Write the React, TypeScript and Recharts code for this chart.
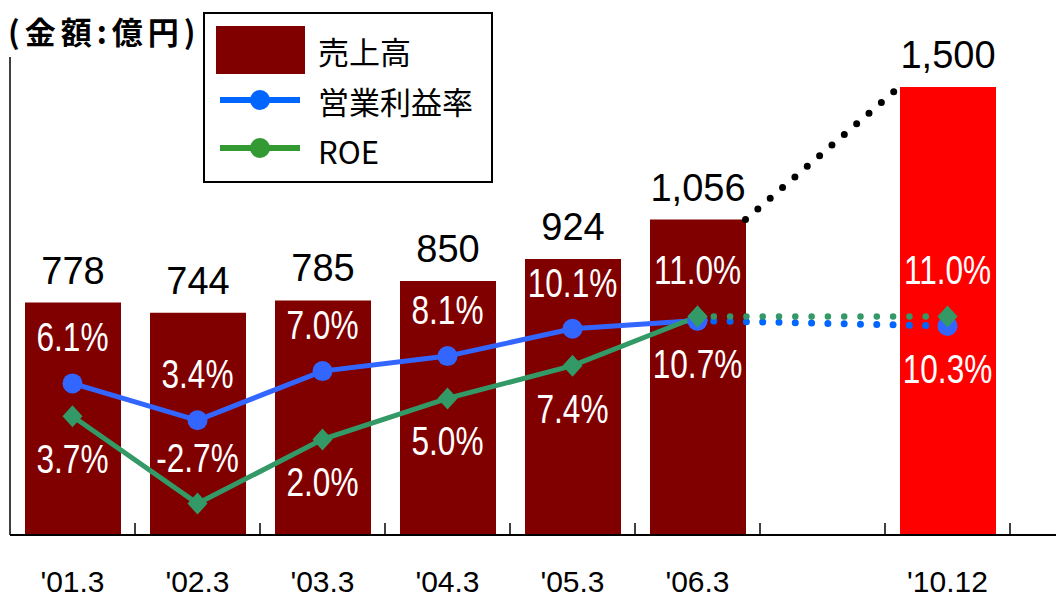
import React from "react";
import { ComposedChart, Bar, Line, XAxis, YAxis, Legend, LabelList, Cell } from "recharts";

// 決算期（最後の空欄は軸の余白）
const periods = ["'01.3", "'02.3", "'03.3", "'04.3", "'05.3", "'06.3", "", "'10.12", ""];
// 売上高（億円）
const sales = [778, 744, 785, 850, 924, 1056, null, 1500, null];
// 営業利益率（%）実績 / 計画
const opMargin = [6.1, 3.4, 7.0, 8.1, 10.1, 10.7, null, null, null];
const opMarginPlan = [null, null, null, null, null, 10.7, null, 10.3, null];
// ROE（%）実績 / 計画
const roe = [3.7, -2.7, 2.0, 5.0, 7.4, 11.0, null, null, null];
const roePlan = [null, null, null, null, null, 11.0, null, 11.0, null];
// ラベルを点の上に置くか下に置くか
const opMarginSide = ["top", "top", "top", "top", "top", "bottom", null, "bottom", null];
const roeSide = ["bottom", "top", "bottom", "bottom", "bottom", "top", null, "top", null];

const PLAN_INDEX = 7;
const LAST_ACTUAL = 5;

const PLOT_LEFT = 10;
const PLOT_W = 1125;
const BAR_SIZE = 96;
const BAND = PLOT_W / periods.length;

const data = periods.map((period, i) => ({
  period,
  sales: sales[i],
  opMargin: opMargin[i],
  opMarginPlan: opMarginPlan[i],
  roe: roe[i],
  roePlan: roePlan[i],
}));

// 実績最終バーの右肩から計画バーの左肩へ
const trendData = [
  { x: LAST_ACTUAL + 0.5 + BAR_SIZE / BAND / 2, v: sales[LAST_ACTUAL] },
  { x: PLAN_INDEX + 0.5 - BAR_SIZE / BAND / 2, v: sales[PLAN_INDEX] },
];
const bandEdges = periods.slice(1).map((_, i) => i + 1);

const MAROON = "#800000";
const RED = "#ff0000";
const BLUE = "#3366ff";
const BLUE_DOT = "#0066ff";
const GREEN = "#339966";
const LATIN = '"Liberation Sans", Arial, sans-serif';
const CJK = '"Noto Sans CJK JP", "Noto Sans", sans-serif';

const pos = (p: any) => {
  const vb = p.viewBox || {};
  return {
    x: p.x ?? vb.x,
    y: p.y ?? vb.y,
    width: p.width ?? vb.width ?? 0,
  };
};

const emptyTick = (p: any) => <g key={`t-${p.index}`} />;

const circleDot = (color: string) => (p: any) => {
  if (p.cx == null || p.cy == null || p.value == null) return <g key={`c-${p.index}`} />;
  return <circle key={`c-${p.index}`} cx={p.cx} cy={p.cy} r={10} fill={color} />;
};

const diamondDot = (color: string) => (p: any) => {
  if (p.cx == null || p.cy == null || p.value == null) return <g key={`d-${p.index}`} />;
  const { cx, cy } = p;
  return (
    <polygon
      key={`d-${p.index}`}
      points={`${cx},${cy - 11} ${cx + 10},${cy} ${cx},${cy + 11} ${cx - 10},${cy}`}
      fill={color}
    />
  );
};

const pctLabel = (sides: (string | null)[], only?: number) => (p: any) => {
  const { x, y } = pos(p);
  const i = p.index;
  if (p.value == null || x == null || y == null || !sides[i]) return null;
  if (only !== undefined && i !== only) return null;
  if (only === undefined && i === PLAN_INDEX) return null;
  const dy = sides[i] === "top" ? -32 : 57;
  return (
    <text
      key={`pl-${i}`}
      transform={`translate(${x},${y + dy}) scale(0.77,1)`}
      textAnchor="middle"
      fill="#fff"
      fontSize={41}
      fontFamily={LATIN}
    >
      {Number(p.value).toFixed(1)}%
    </text>
  );
};

const salesLabel = (p: any) => {
  const { x, y, width } = pos(p);
  if (p.value == null || x == null) return null;
  return (
    <text
      key={`sl-${p.index}`}
      x={x + width / 2}
      y={y - 19}
      textAnchor="middle"
      fill="#000"
      fontSize={38}
      fontFamily={LATIN}
    >
      {Number(p.value).toLocaleString("en-US")}
    </text>
  );
};

const renderLegend = () => (
  <div
    style={{
      width: 290,
      height: 171,
      boxSizing: "border-box",
      border: "2px solid #000",
      background: "#fff",
      position: "relative",
    }}
  >
    <svg width={290} height={171} style={{ position: "absolute", left: -2, top: -2 }}>
      <rect x={13} y={14} width={89} height={48} fill={MAROON} />
      <text x={115} y={52} fontSize={31} fontFamily={CJK} fill="#000">売上高</text>
      <line x1={17} x2={97} y1={88} y2={88} stroke={BLUE_DOT} strokeWidth={6} />
      <circle cx={57} cy={88} r={10} fill={BLUE_DOT} />
      <text x={115} y={102} fontSize={31} fontFamily={CJK} fill="#000">営業利益率</text>
      <line x1={17} x2={97} y1={136} y2={136} stroke="#339933" strokeWidth={6} />
      <circle cx={57} cy={136} r={10} fill="#339933" />
      <text x={115} y={152} fontSize={31} fontFamily={CJK} fill="#000">ROE</text>
    </svg>
  </div>
);

export default function App() {
  return (
    <div
      style={{
        position: "absolute",
        left: 0,
        top: 0,
        width: 1056,
        height: 598,
        overflow: "hidden",
        background: "#fff",
      }}
    >
      <div
        style={{
          position: "absolute",
          left: 8,
          top: 15,
          fontFamily: CJK,
          fontWeight: 700,
          fontSize: 31,
          lineHeight: "31px",
          letterSpacing: 5,
          color: "#000",
          zIndex: 2,
        }}
      >
        (金額:億円)
      </div>
      <ComposedChart
        width={PLOT_LEFT + PLOT_W + 5}
        height={598}
        data={data}
        margin={{ top: 57, right: 5, bottom: 23, left: PLOT_LEFT - 2 }}
      >
        <XAxis
          xAxisId="cat"
          dataKey="period"
          axisLine={false}
          tickLine={false}
          tickSize={0}
          tickMargin={36}
          interval={0}
          height={40}
          tick={{ fill: "#000", fontSize: 30, fontFamily: LATIN }}
        />
        <XAxis
          xAxisId="num"
          type="number"
          dataKey="x"
          domain={[0, periods.length]}
          ticks={bandEdges}
          interval={0}
          allowDataOverflow
          mirror
          tick={emptyTick}
          tickSize={12}
          axisLine={{ stroke: "#000", strokeWidth: 2 }}
          tickLine={{ stroke: "#000", strokeWidth: 1.5 }}
        />
        <YAxis
          yAxisId="left"
          domain={[0, 1600]}
          allowDataOverflow
          width={2}
          tick={emptyTick}
          tickLine={false}
          axisLine={{ stroke: "#000", strokeWidth: 1.5 }}
        />
        <YAxis yAxisId="right" orientation="right" domain={[-5, 30]} allowDataOverflow hide />
        <Legend
          content={renderLegend}
          layout="vertical"
          align="center"
          verticalAlign="middle"
          wrapperStyle={{ left: 203, top: 12, width: 290, height: 171 }}
        />
        <Bar
          xAxisId="cat"
          yAxisId="left"
          dataKey="sales"
          barSize={BAR_SIZE}
          isAnimationActive={false}
        >
          {data.map((_, i) => (
            <Cell key={i} fill={i === PLAN_INDEX ? RED : MAROON} />
          ))}
          <LabelList dataKey="sales" content={salesLabel} />
        </Bar>
        <Line
          xAxisId="num"
          yAxisId="left"
          data={trendData}
          dataKey="v"
          stroke="#000"
          strokeWidth={7}
          strokeDasharray="0 16.3"
          strokeLinecap="round"
          dot={false}
          activeDot={false}
          isAnimationActive={false}
        />
        <Line
          xAxisId="cat"
          yAxisId="right"
          dataKey="opMarginPlan"
          connectNulls
          stroke={BLUE_DOT}
          strokeWidth={7}
          strokeDasharray="0 16.3"
          strokeLinecap="round"
          dot={circleDot(BLUE)}
          activeDot={false}
          isAnimationActive={false}
        >
          <LabelList dataKey="opMarginPlan" content={pctLabel(opMarginSide, PLAN_INDEX)} />
        </Line>
        <Line
          xAxisId="cat"
          yAxisId="right"
          dataKey="opMargin"
          stroke={BLUE}
          strokeWidth={5}
          dot={circleDot(BLUE)}
          activeDot={false}
          isAnimationActive={false}
        >
          <LabelList dataKey="opMargin" content={pctLabel(opMarginSide)} />
        </Line>
        <Line
          xAxisId="cat"
          yAxisId="right"
          dataKey="roePlan"
          connectNulls
          stroke={GREEN}
          strokeWidth={6.5}
          strokeDasharray="0 16.3"
          strokeLinecap="round"
          dot={diamondDot(GREEN)}
          activeDot={false}
          isAnimationActive={false}
        >
          <LabelList dataKey="roePlan" content={pctLabel(roeSide, PLAN_INDEX)} />
        </Line>
        <Line
          xAxisId="cat"
          yAxisId="right"
          dataKey="roe"
          stroke={GREEN}
          strokeWidth={5}
          dot={diamondDot(GREEN)}
          activeDot={false}
          isAnimationActive={false}
        >
          <LabelList dataKey="roe" content={pctLabel(roeSide)} />
        </Line>
      </ComposedChart>
    </div>
  );
}
